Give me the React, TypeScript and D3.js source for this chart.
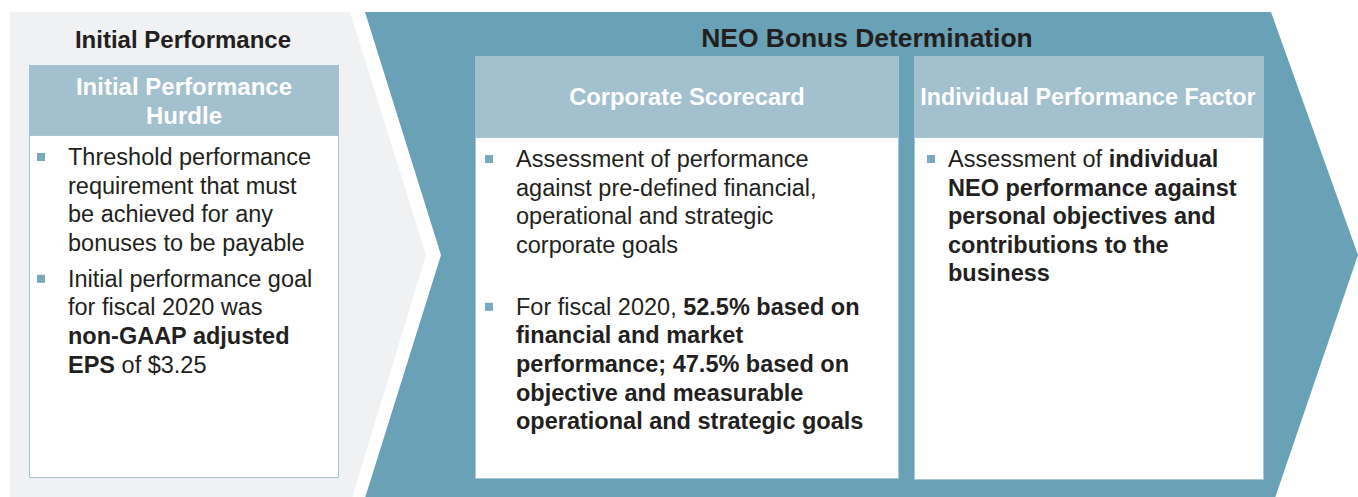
import * as d3 from 'd3'
import React from 'react'

// text content, one entry per visual line; [text, bold]
type Seg = [string, boolean]

const leftTitle = 'Initial Performance'
const mainTitle = 'NEO Bonus Determination'
const leftHeader = ['Initial Performance', 'Hurdle']
const midHeader = 'Corporate Scorecard'
const rightHeader = 'Individual Performance Factor'

const leftBullets: Seg[][][] = [
  [
    [['Threshold performance', false]],
    [['requirement that must', false]],
    [['be achieved for any', false]],
    [['bonuses to be payable', false]]
  ],
  [
    [['Initial performance goal', false]],
    [['for fiscal 2020 was', false]],
    [['non-GAAP adjusted', true]],
    [['EPS', true], [' of $3.25', false]]
  ]
]

const midBullets: Seg[][][] = [
  [
    [['Assessment of performance', false]],
    [['against pre-defined financial,', false]],
    [['operational and strategic', false]],
    [['corporate goals', false]]
  ],
  [
    [['For fiscal 2020, ', false], ['52.5% based on', true]],
    [['financial and market', true]],
    [['performance; 47.5% based on', true]],
    [['objective and measurable', true]],
    [['operational and strategic goals', true]]
  ]
]

const rightBullets: Seg[][][] = [
  [
    [['Assessment of ', false], ['individual', true]],
    [['NEO performance against', true]],
    [['personal objectives and', true]],
    [['contributions to the', true]],
    [['business', true]]
  ]
]

const W = 1358
const H = 497
const FONT = '"Liberation Sans", Arial, Helvetica, sans-serif'
const GRAY = '#F0F1F3'
const TEAL = '#69A2B7'
const LIGHT = '#A3C0CE'
const BORDER = '#A9C6D4'
const BULLET = '#79A9BC'
const INK = '#231F20'

const LINE_H = 28.6

const BulletList = ({
  bullets,
  x,
  bulletX,
  y0,
  gap
}: {
  bullets: Seg[][][]
  x: number
  bulletX: number
  y0: number
  gap: number
}) => {
  const items: React.ReactNode[] = []
  let start = 0
  bullets.forEach((lines, bi) => {
    // line index -> baseline
    const yLine = d3.scaleLinear().domain([0, 1]).range([y0 + start, y0 + start + LINE_H])
    items.push(
      <rect key={`b${bi}`} x={bulletX} y={yLine(0) - 12} width={8} height={8} fill={BULLET} />
    )
    lines.forEach((segs, li) => {
      items.push(
        <text key={`t${bi}-${li}`} x={x} y={yLine(li)} fontSize={23.5} fill={INK} fontFamily={FONT}>
          {segs.map(([t, b], si) => (
            <tspan key={si} fontWeight={b ? 'bold' : 'normal'} style={{ whiteSpace: 'pre' }}>
              {t}
            </tspan>
          ))}
        </text>
      )
    })
    start += (lines.length - 1) * LINE_H + gap
  })
  return <g>{items}</g>
}

export default function App() {
  const poly = d3.line()
  const grayShape: [number, number][] = [
    [10, 12], [350, 12], [426, 255], [352, 498], [10, 498]
  ]
  const tealShape: [number, number][] = [
    [365, 12], [1271, 12], [1358, 255], [1275, 498], [365, 498], [441, 255]
  ]

  return (
    <svg
      width={W}
      height={H}
      style={{ position: 'absolute', left: 0, top: 0, background: '#fff' }}
      fontFamily={FONT}
    >
      <path d={poly(grayShape) + 'Z'} fill={GRAY} />
      <path d={poly(tealShape) + 'Z'} fill={TEAL} />

      {/* left column */}
      <text x={183} y={48} textAnchor='middle' fontSize={24} fontWeight='bold' fill={INK}>
        {leftTitle}
      </text>
      <rect x={29.5} y={135.5} width={309} height={342} fill='#fff' stroke={BORDER} />
      <rect x={29} y={65} width={310} height={70} fill={LIGHT} />
      {leftHeader.map((t, i) => (
        <text key={t} x={184} y={95 + i * 29} textAnchor='middle' fontSize={24} fontWeight='bold' fill='#fff'>
          {t}
        </text>
      ))}
      <BulletList bullets={leftBullets} x={68} bulletX={37} y0={165} gap={36} />

      {/* NEO bonus determination */}
      <text x={867} y={47} textAnchor='middle' fontSize={26.4} fontWeight='bold' fill={INK}>
        {mainTitle}
      </text>

      <rect x={475.5} y={137.5} width={423} height={341} fill='#fff' stroke={BORDER} />
      <rect x={475} y={56} width={424} height={81} fill={LIGHT} />
      <text x={687} y={105} textAnchor='middle' fontSize={23.7} fontWeight='bold' fill='#fff'>
        {midHeader}
      </text>
      <BulletList bullets={midBullets} x={516} bulletX={485} y0={167} gap={62} />

      <rect x={914.5} y={137.5} width={349} height={342} fill='#fff' stroke={BORDER} />
      <rect x={914} y={56} width={350} height={81} fill={LIGHT} />
      <text x={1088} y={105} textAnchor='middle' fontSize={23.3} fontWeight='bold' fill='#fff'>
        {rightHeader}
      </text>
      <BulletList bullets={rightBullets} x={948} bulletX={927} y0={167} gap={62} />
    </svg>
  )
}
